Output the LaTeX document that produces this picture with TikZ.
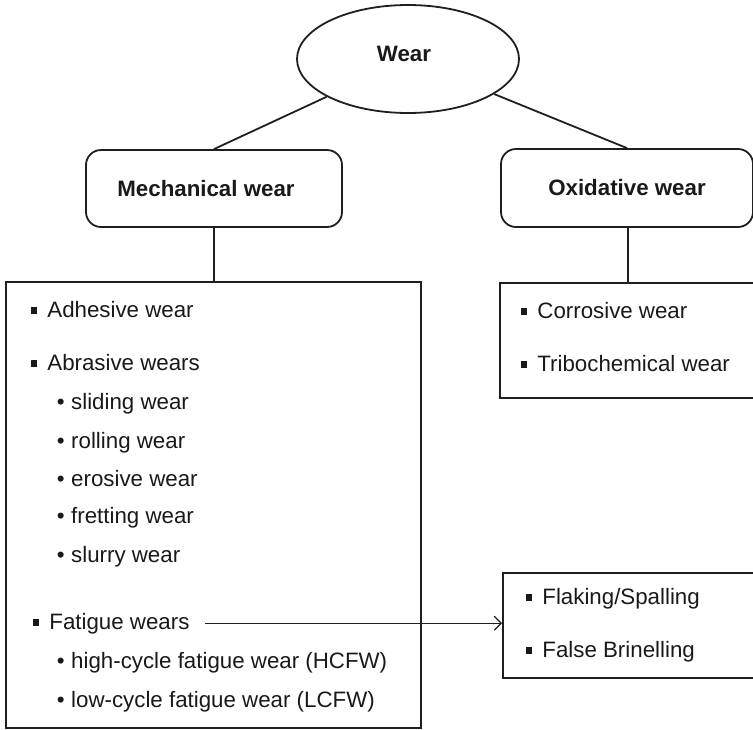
\documentclass[tikz,border=0pt]{standalone}
\usepackage{fontspec}
\setmainfont{Liberation Sans}
\usetikzlibrary{shapes.geometric,arrows.meta}
\newcommand\sqbul{\raisebox{3.5pt}{\rule{6.5pt}{6.5pt}}\hspace{10pt}}
\newcommand\rdbul{\textbullet\hspace{6.5pt}}
\begin{document}
\begin{tikzpicture}[x=1pt,y=-1pt,
  line width=1.8pt,
  every node/.style={font=\fontsize{22.3}{26}\selectfont, inner sep=0pt, text=black!90},
  titlebox/.style={draw=black!88, rounded corners=15pt},
  titletext/.style={font=\fontsize{22.3}{26}\selectfont\bfseries},
  listbox/.style={draw=black!88},
  item/.style={anchor=base west},
  conn/.style={draw=black!88}]
\useasboundingbox (0,0) rectangle (753,729);

% top ellipse
\node[draw=black!88, ellipse, minimum width=222pt, minimum height=108pt] (wear) at (408,59) {};
\node[titletext] (weartxt) at ([xshift=-4pt,yshift=5pt]wear.center) {Wear};

% category boxes
\node[titlebox, minimum width=256pt, minimum height=77pt] (mech) at (214,188.5) {};
\node[titletext] (mechtxt) at ([xshift=-8pt]mech.center) {Mechanical wear};
\node[titlebox, minimum width=252pt, minimum height=78pt] (oxi) at (627,188) {};
\node[titletext] (oxitxt) at (oxi.center) {Oxidative wear};

% list boxes
\node[listbox, minimum width=415pt, minimum height=446pt] (lbox) at (213.5,505) {};
\node[listbox, minimum width=260pt, minimum height=115pt] (rtbox) at (630,340.5) {};
\node[listbox, minimum width=260pt, minimum height=105pt] (brbox) at (633,625.5) {};

% connectors
\draw[conn] (wear) -- (mech.north);
\draw[conn] (wear) -- (oxi.north);
\draw[conn] (mech.south) -- (mech.south |- lbox.north);
\draw[conn] ([xshift=1pt]oxi.south) -- ([xshift=1pt]oxi.south |- rtbox.north);

% left list
\node[item] (adh) at (30,317) {\sqbul Adhesive wear};
\node[item] (abr) at (30,370) {\sqbul Abrasive wears};
\node[item] (sli) at (56,409) {\rdbul sliding wear};
\node[item] (rol) at (56,448) {\rdbul rolling wear};
\node[item] (ero) at (56,486) {\rdbul erosive wear};
\node[item] (fre) at (56,523) {\rdbul fretting wear};
\node[item] (slu) at (56,562) {\rdbul slurry wear};
\node[item] (fat) at (32,629) {\sqbul Fatigue wears};
\node[item] (hcf) at (56,668) {\rdbul high-cycle fatigue wear (HCFW)};
\node[item] (lcf) at (56,707) {\rdbul low-cycle fatigue wear (LCFW)};

% right top list
\node[item] (cor) at (520,318) {\sqbul Corrosive wear};
\node[item] (tri) at (520,371) {\sqbul Tribochemical wear};

% bottom right list
\node[item] (fla) at (525,604) {\sqbul Flaking/Spalling};
\node[item] (fal) at (525,657) {\sqbul False Brinelling};

% arrow
\draw[conn, line width=1.2pt, -{Straight Barb[length=7pt,width=14pt]}] ([xshift=15pt]fat.east) -- (fat.east -| brbox.west);
\end{tikzpicture}
\end{document}
